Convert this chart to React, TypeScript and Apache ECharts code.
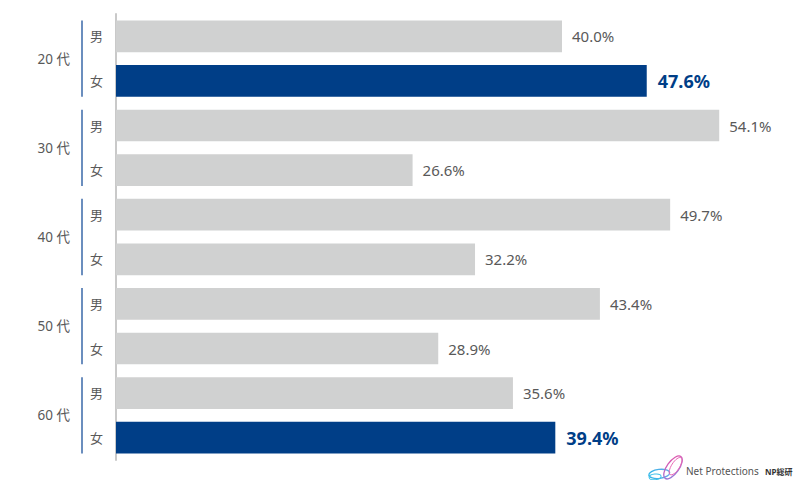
import React, { useEffect, useRef } from "react";
import * as echarts from "echarts";

const groups = ["20 代", "30 代", "40 代", "50 代", "60 代"];
const genders = ["男", "女"];
const maleValues = [40.0, 54.1, 49.7, 43.4, 35.6];
const femaleValues = [47.6, 26.6, 32.2, 28.9, 39.4];
const highlighted = ["20 代|女", "60 代|女"];

const GRAY = "#d0d1d1";
const BLUE = "#003e87";
const TEXT = "#595959";
const FONT = "'Noto Sans', 'Noto Sans CJK JP', sans-serif";

export default function App() {
  const ref = useRef<HTMLDivElement>(null);
  useEffect(() => {
    if (!ref.current) return;
    const chart = echarts.init(ref.current, null, { renderer: "svg" });
    const cats: string[] = [];
    const data: any[] = [];
    groups.forEach((g, i) => {
      genders.forEach((s, j) => {
        const key = g + "|" + s;
        cats.push(key);
        const v = j === 0 ? maleValues[i] : femaleValues[i];
        const hi = highlighted.includes(key);
        data.push({
          value: v,
          itemStyle: { color: hi ? BLUE : GRAY },
          label: hi
            ? { color: BLUE, fontSize: 18, fontWeight: "bold", distance: 11 }
            : { color: TEXT, fontSize: 15, fontWeight: "normal", distance: 10 },
        });
      });
    });
    chart.setOption({
      animation: false,
      grid: { left: 116, right: 16, top: 14, height: 446 },
      xAxis: { type: "value", min: 0, max: 60, show: false },
      yAxis: {
        type: "category",
        data: cats,
        inverse: true,
        axisLine: { lineStyle: { color: "#c9c9c9", width: 2 } },
        axisTick: { show: false },
        axisLabel: {
          formatter: (v: string) => v.split("|")[1],
          color: TEXT,
          fontSize: 13,
          fontFamily: FONT,
          margin: 13,
        },
      },
      series: [
        {
          type: "bar",
          data,
          barCategoryGap: "29%",
          label: {
            show: true,
            position: "right",
            fontFamily: FONT,
            formatter: (p: any) => p.value.toFixed(1) + "%",
          },
        },
      ],
    });

    const graphics: any[] = [];
    groups.forEach((g) => {
      const yTop = chart.convertToPixel({ yAxisIndex: 0 }, g + "|男") as number;
      const yBot = chart.convertToPixel({ yAxisIndex: 0 }, g + "|女") as number;
      const half = (yBot - yTop) * 0.355;
      graphics.push({
        type: "line",
        shape: { x1: 82, y1: yTop - half, x2: 82, y2: yBot + half },
        style: { stroke: "#3a68a8", lineWidth: 1.5 },
      });
      graphics.push({
        type: "text",
        x: 70,
        y: (yTop + yBot) / 2,
        style: {
          text: g,
          fill: TEXT,
          fontSize: 13.5,
          fontFamily: FONT,
          align: "right",
          verticalAlign: "middle",
        },
      });
    });
    // logo
    graphics.push({
      type: "ellipse",
      shape: { cx: 659, cy: 474, rx: 10.5, ry: 4.5 },
      rotation: 0.12,
      originX: 659,
      originY: 474,
      style: {
        fill: "none",
        lineWidth: 1.3,
        stroke: new echarts.graphic.LinearGradient(0, 0, 1, 0, [
          { offset: 0, color: "#2fb6e8" },
          { offset: 1, color: "#6aa8e8" },
        ]),
      },
    });
    graphics.push({
      type: "ellipse",
      shape: { cx: 655, cy: 477, rx: 6, ry: 2.8 },
      rotation: 0.1,
      originX: 655,
      originY: 477,
      style: { fill: "none", lineWidth: 1, stroke: "#3cc0ea" },
    });
    graphics.push({
      type: "ellipse",
      shape: { cx: 673, cy: 467, rx: 13.5, ry: 6 },
      rotation: 0.95,
      originX: 673,
      originY: 467,
      style: {
        fill: "none",
        lineWidth: 1.3,
        stroke: new echarts.graphic.LinearGradient(0, 1, 1, 0, [
          { offset: 0, color: "#8a7fe0" },
          { offset: 1, color: "#e94fa6" },
        ]),
      },
    });
    graphics.push({
      type: "ellipse",
      shape: { cx: 676, cy: 466, rx: 10, ry: 4 },
      rotation: 1.0,
      originX: 676,
      originY: 466,
      style: { fill: "none", lineWidth: 0.9, stroke: "#e866b4" },
    });
    graphics.push({
      type: "text",
      x: 686,
      y: 471,
      style: {
        text: "Net Protections",
        fill: "#555",
        fontSize: 10,
        fontFamily: "'Noto Sans', sans-serif",
        verticalAlign: "middle",
      },
    });
    graphics.push({
      type: "text",
      x: 765,
      y: 471,
      style: {
        text: "NP総研",
        fill: "#333",
        fontSize: 8,
        fontWeight: "bold",
        fontFamily: FONT,
        verticalAlign: "middle",
      },
    });
    chart.setOption({ graphic: graphics });
    return () => chart.dispose();
  }, []);
  return <div ref={ref} style={{ width: 801, height: 488, margin: -8 }} />;
}
